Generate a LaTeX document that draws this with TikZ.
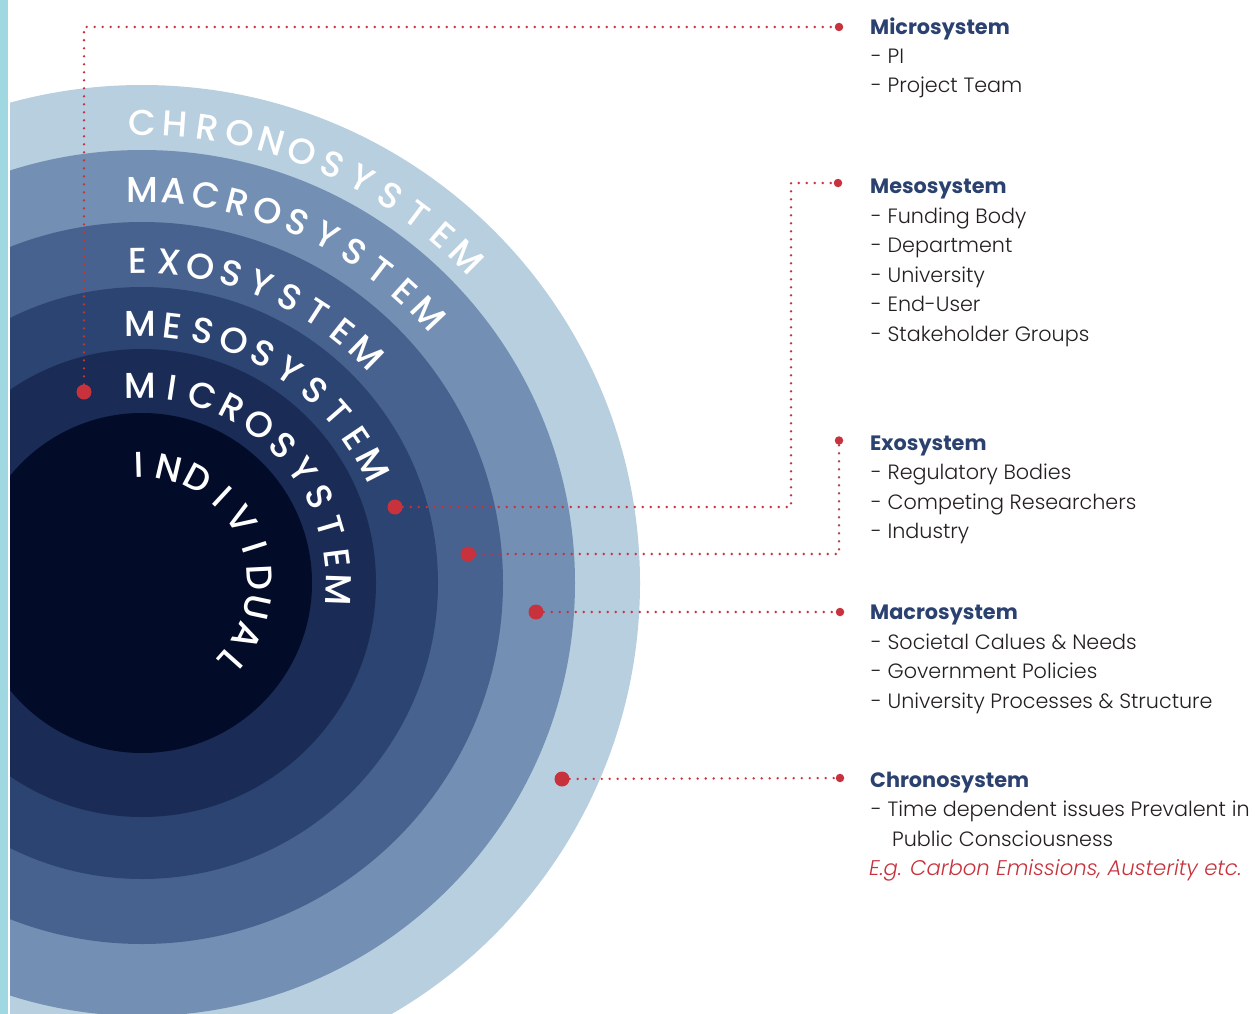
\documentclass[tikz,border=0pt]{standalone}
\usepackage{fontspec}
\setmainfont{Poppins}[UprightFont=* Light, BoldFont=* Bold, ItalicFont=* Light Italic]
\newfontfamily\arcfont{Poppins}[UprightFont=* Medium]
\newcommand\arcletterfont{\arcfont\fontsize{36}{36}\selectfont}
\usetikzlibrary{calc}
\definecolor{cyanstrip}{HTML}{9FD8E0}
\definecolor{chrono}{HTML}{B8CFE0}
\definecolor{macro}{HTML}{7390B4}
\definecolor{exo}{HTML}{48628F}
\definecolor{meso}{HTML}{2C4472}
\definecolor{micro}{HTML}{1A2B56}
\definecolor{indiv}{HTML}{020B28}
\definecolor{dotred}{HTML}{C8323C}
\definecolor{headblue}{HTML}{2B4170}
\definecolor{itemgray}{HTML}{231F20}
\newlength\arcw
% #1 first centre angle, #2 last centre angle, #3 radius, #4 letters, #5 name, #6 number of letters
\newcommand\arcword[6]{%
  \gdef\arcsum{0}\gdef\arcfirst{0}\gdef\arclast{0}%
  \foreach \ch [count=\i from 0] in {#4} {%
    \settowidth\arcw{\arcletterfont \ch}%
    \pgfmathsetmacro\tmp{\arcsum+\arcw}\xdef\arcsum{\tmp}%
    \pgfmathsetmacro\tmp{\arcw/2}%
    \ifnum\i=0 \xdef\arcfirst{\tmp}\fi
    \xdef\arclast{\tmp}%
  }%
  \pgfmathsetmacro\arctrack{((#1-(#2))*pi/180*#3-(\arcsum-\arcfirst-\arclast))/(#6-1)}%
  \xdef\arctrack{\arctrack}%
  \gdef\arccum{0}\gdef\arcprev{0}%
  \foreach \ch [count=\i from 0] in {#4} {%
    \settowidth\arcw{\arcletterfont \ch}%
    \pgfmathsetmacro\half{\arcw/2}%
    \ifnum\i>0 \pgfmathsetmacro\tmp{\arccum+\arcprev+\arctrack+\half}\xdef\arccum{\tmp}\fi
    \xdef\arcprev{\half}%
    \pgfmathsetmacro\ang{#1-\arccum/#3*180/pi}%
    \pgfmathsetmacro\rot{\ang-90}%
    \node[arcletter, rotate=\rot] (#5\i) at ($(c)+(\ang:#3)$) {\ch};
  }}
\begin{document}
\begin{tikzpicture}[x=1pt,y=1pt,
  arcletter/.style={inner sep=0pt, text=white, font=\arcletterfont},
  bigdot/.style={circle, fill=dotred, inner sep=0pt, minimum size=15pt},
  smalldot/.style={circle, fill=dotred, inner sep=0pt, minimum size=8.5pt},
  leader/.style={draw=dotred, line width=2.6pt, line cap=round, dash pattern=on 0pt off 8pt},
  head/.style={anchor=base west, inner sep=0pt, text=headblue, font=\bfseries\fontsize{20.8}{20.8}\selectfont},
  item/.style={anchor=base west, inner sep=0pt, text=itemgray, font=\fontsize{20.7}{20.7}\selectfont},
  example/.style={anchor=base west, inner sep=0pt, text=dotred, font=\itshape\fontsize{21.2}{21.2}\selectfont}]
\useasboundingbox (0,0) rectangle (1255,-1014);
\fill[white] (0,0) rectangle (1255,-1014);
\fill[cyanstrip] (0,0) rectangle (8,-1014);
\coordinate (c) at (142,-583);
\begin{scope}
  \clip (10,0) rectangle (1255,-1014);
  \fill[chrono] (c) circle[radius=498];
  \fill[macro] (c) circle[radius=433];
  \fill[exo] (c) circle[radius=361];
  \fill[meso] (c) circle[radius=296];
  \fill[micro] (c) circle[radius=234];
  \fill[indiv] (c) circle[radius=170];
\end{scope}
% curved labels
\arcword{90}{45.1}{460}{C,H,R,O,N,O,S,Y,S,T,E,M}{ch}{12}
\arcword{90}{43.3}{393}{M,A,C,R,O,S,Y,S,T,E,M}{ma}{11}
\arcword{90.7}{45.8}{322}{E,X,O,S,Y,S,T,E,M}{ex}{9}
\arcword{90.4}{27}{259}{M,E,S,O,S,Y,S,T,E,M}{me}{10}
\arcword{90.6}{-2}{197}{M,I,C,R,O,S,Y,S,T,E,M}{mi}{11}
\arcword{91.7}{-41.7}{118}{I,N,D,I,V,I,D,U,A,L}{in}{10}
% dots
\node[bigdot] (miB) at (84,-392) {};
\node[smalldot] (miS) at (839,-27) {};
\node[bigdot] (meB) at (395,-507) {};
\node[smalldot] (meS) at (838,-183) {};
\coordinate (meK) at (791,-183);
\node[bigdot] (exB) at (468,-554) {};
\node[smalldot] (exS) at (839,-440.5) {};
\node[bigdot] (maB) at (536,-612) {};
\node[smalldot] (maS) at (840,-612) {};
\node[bigdot] (chB) at (562,-779) {};
\node[smalldot] (chS) at (840,-778) {};
\draw[leader] (miB) |- (miS);
\draw[leader] (meB) -| (meK) -- (meS);
\draw[leader] (exB) -| (exS);
\draw[leader] (maB) -- (maS);
\draw[leader] (chB) -- (chS);
% texts
\node[head] (miH) at (870,-34.3) {Microsystem};
\node[item] (mi1) at (871,-63.5) {- PI};
\node[item] (mi2) at (871,-93) {- Project Team};
\node[head] (meH) at (870,-193.3) {Mesosystem};
\node[item] (me1) at (871,-223) {- Funding Body};
\node[item] (me2) at (871,-252.5) {- Department};
\node[item] (me3) at (871,-282) {- University};
\node[item] (me4) at (871,-311.5) {- End-User};
\node[item] (me5) at (871,-341) {- Stakeholder Groups};
\node[head] (exH) at (870,-450) {Exosystem};
\node[item] (ex1) at (871,-479.5) {- Regulatory Bodies};
\node[item] (ex2) at (871,-509) {- Competing Researchers};
\node[item] (ex3) at (871,-538.5) {- Industry};
\node[head] (maH) at (870,-619.5) {Macrosystem};
\node[item] (ma1) at (871,-649) {- Societal Calues \& Needs};
\node[item] (ma2) at (871,-678.5) {- Government Policies};
\node[item] (ma3) at (871,-708) {- University Processes \& Structure};
\node[head] (chH) at (870,-787) {Chronosystem};
\node[item] (ch1) at (871,-816.5) {- Time dependent issues Prevalent in};
\node[item] (ch2) at (892,-846) {Public Consciousness};
\node[example] (ch3) at (869,-875.5) {E.g. Carbon Emissions, Austerity etc.};
\end{tikzpicture}
\end{document}
